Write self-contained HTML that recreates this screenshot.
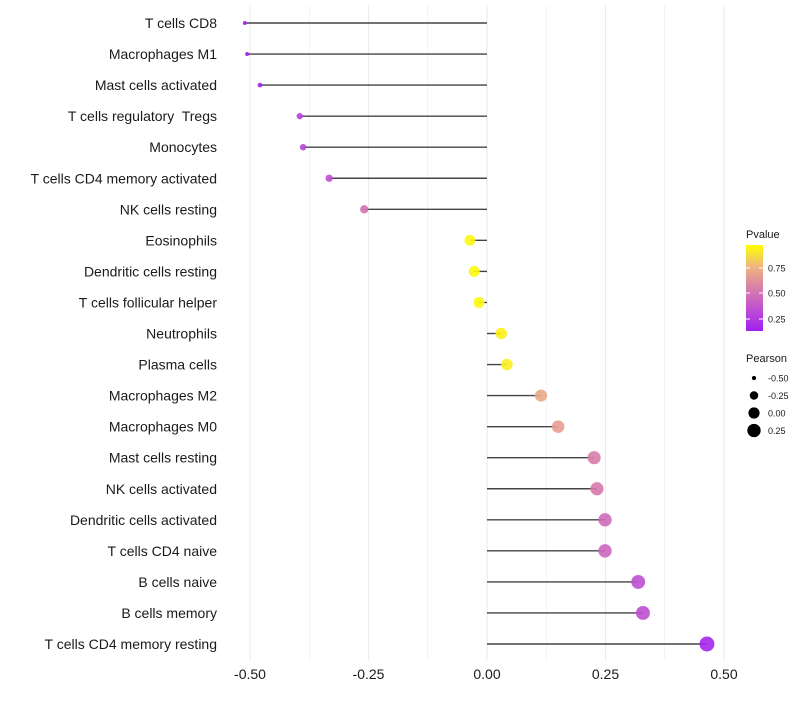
<!DOCTYPE html>
<html><head><meta charset="utf-8"><style>
body{margin:0;background:#fff;font-family:"Liberation Sans",sans-serif}
svg text{font-family:"Liberation Sans",Arial,sans-serif;white-space:pre}
</style></head><body>
<svg id="chart" width="800" height="700" xmlns="http://www.w3.org/2000/svg" font-family="Liberation Sans, sans-serif">
<defs><linearGradient id="pg" x1="0" y1="1" x2="0" y2="0">
<stop offset="0" stop-color="#a020f0"/><stop offset="0.3" stop-color="#c458cc"/><stop offset="0.5" stop-color="#d87fa8"/><stop offset="0.75" stop-color="#eeb67f"/><stop offset="1" stop-color="#ffff00"/></linearGradient></defs>
<g id="grid"></g><g id="marks"></g><g id="ylabels"></g><g id="xlabels"></g><g id="legend"></g>
</svg>
<script>
const categories=["T cells CD8","Macrophages M1","Mast cells activated","T cells regulatory  Tregs","Monocytes","T cells CD4 memory activated","NK cells resting","Eosinophils","Dendritic cells resting","T cells follicular helper","Neutrophils","Plasma cells","Macrophages M2","Macrophages M0","Mast cells resting","NK cells activated","Dendritic cells activated","T cells CD4 naive","B cells naive","B cells memory","T cells CD4 memory resting"];
const pearson=[-0.511,-0.506,-0.479,-0.395,-0.388,-0.333,-0.259,-0.036,-0.027,-0.017,0.030,0.042,0.114,0.150,0.226,0.232,0.249,0.249,0.319,0.329,0.464];
const pvalue=[0.13,0.13,0.15,0.30,0.30,0.35,0.50,0.96,0.96,0.96,0.94,0.93,0.72,0.68,0.55,0.53,0.47,0.45,0.35,0.34,0.16];
const xTicks=[-0.5,-0.25,0,0.25,0.5];
const xTickLabels=["-0.50","-0.25","0.00","0.25","0.50"];
const legendSizes=[-0.5,-0.25,0,0.25];
const legendSizeLabels=["-0.50","-0.25","0.00","0.25"];
const NS="http://www.w3.org/2000/svg";
const x=v=>487+v*474;
const y=i=>23+i*31.05;
const pmin=0.13,pmax=0.98;
const stops=[[0,[160,32,240]],[0.3,[196,88,204]],[0.5,[216,127,168]],[0.75,[238,182,127]],[1,[255,255,0]]];
function col(p){let t=Math.max(0,Math.min(1,(p-pmin)/(pmax-pmin)));for(let k=1;k<stops.length;k++){if(t<=stops[k][0]){const a=stops[k-1],b=stops[k];const f=(t-a[0])/(b[0]-a[0]);return "rgb("+a[1].map((c,j)=>Math.round(c+(b[1][j]-c)*f)).join(",")+")";}}return "rgb(255,255,0)";}
const smin=-0.511,smax=0.464;
const r=v=>Math.sqrt(4+(v-smin)/(smax-smin)*52);
function el(t,a,p){const e=document.createElementNS(NS,t);for(const k in a)e.setAttribute(k,a[k]);p.appendChild(e);return e;}
const grid=document.getElementById('grid');
for(let v=-0.5;v<=0.5001;v+=0.125){const g=el('line',{x1:x(v),x2:x(v),y1:5,y2:660,stroke:'#ebebeb','stroke-width':Math.abs((v*8)%2)>0.5?0.6:1.1},grid);

}
const marks=document.getElementById('marks'),yl=document.getElementById('ylabels');
categories.forEach((c,i)=>{
const l=el('line',{x1:x(0),x2:x(pearson[i]),y1:y(i),y2:y(i),stroke:'#444','stroke-width':1.4},marks);


const p=el('circle',{cx:x(pearson[i]),cy:y(i),r:r(pearson[i]),fill:col(pvalue[i]),opacity:0.9},marks);


const t=el('text',{x:217,y:y(i)+5,'text-anchor':'end','font-size':14,fill:'#1a1a1a'},yl);t.textContent=c;


});
const xl=document.getElementById('xlabels');
xTicks.forEach((v,i)=>{const t=el('text',{x:x(v),y:679,'text-anchor':'middle','font-size':14,fill:'#1a1a1a'},xl);t.textContent=xTickLabels[i];

});
const lg=document.getElementById('legend');
let t=el('text',{x:746,y:238,'font-size':11,fill:'#1a1a1a'},lg);t.textContent='Pvalue';


const bar=el('rect',{x:746,y:245,width:17,height:86,fill:'url(#pg)'},lg);


[[0.75,268],[0.5,293],[0.25,319]].forEach(([v,yy])=>{
el('line',{x1:746,x2:750,y1:yy,y2:yy,stroke:'#fff'},lg);el('line',{x1:759,x2:763,y1:yy,y2:yy,stroke:'#fff'},lg);
const tt=el('text',{x:768,y:yy+3.5,'font-size':9,fill:'#1a1a1a'},lg);tt.textContent=v.toFixed(2);

});
t=el('text',{x:746,y:362,'font-size':11,fill:'#1a1a1a'},lg);t.textContent='Pearson';


legendSizes.forEach((v,i)=>{const yy=378+i*17.5;
const c=el('circle',{cx:754,cy:yy,r:r(v),fill:'#000'},lg);


const tt=el('text',{x:768,y:yy+3.5,'font-size':9,fill:'#1a1a1a'},lg);tt.textContent=legendSizeLabels[i];

});
</script>
</body></html>
